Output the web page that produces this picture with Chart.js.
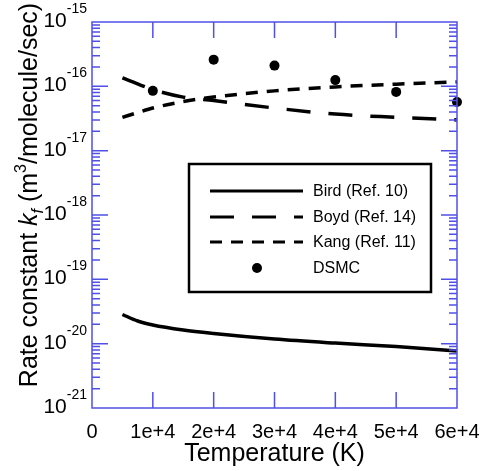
<!DOCTYPE html>
<html lang="en">
<head>
  <meta charset="UTF-8" />
  <title>Rate constant vs temperature</title>
  <script src="https://cdn.jsdelivr.net/npm/chart.js"></script>
  <style>
    html, body { margin: 0; padding: 0; background: #fff; }
    #wrap { width: 487px; height: 471px; position: relative; }
  </style>
</head>
<body>
  <div id="wrap"><canvas id="rateChart"></canvas></div>

  <script>
    // temperatures (K) for the model curves
    const tempK = [5000, 7500, 10000, 15000, 20000, 30000, 40000, 50000, 60000];
    const bird = [2.84e-20, 2.25e-20, 1.95e-20, 1.63e-20, 1.44e-20, 1.18e-20, 1.02e-20, 9.0e-21, 7.7e-21];
    const boyd = [1.35e-16, 1.09e-16, 8.9e-17, 6.8e-17, 6.0e-17, 4.6e-17, 3.7e-17, 3.3e-17, 3.0e-17];
    const kang = [3.3e-17, 3.9e-17, 4.6e-17, 5.8e-17, 6.8e-17, 8.5e-17, 9.8e-17, 1.08e-16, 1.17e-16];

    // DSMC results
    const dsmcT = [10000, 20000, 30000, 40000, 50000, 60000];
    const dsmc = [8.5e-17, 2.6e-16, 2.1e-16, 1.25e-16, 8.2e-17, 5.7e-17];

    // axis ticks
    const xTicks = [0, 10000, 20000, 30000, 40000, 50000, 60000];
    const xTickLabels = ["0", "1e+4", "2e+4", "3e+4", "4e+4", "5e+4", "6e+4"];
    const yExps = [-21, -20, -19, -18, -17, -16, -15];

    const FONT = "'Liberation Sans', Arial, sans-serif";
    const BLUE = "rgb(80, 80, 232)";

    const pts = (xs, ys) => xs.map((x, i) => ({ x: x, y: ys[i] }));

    const datasets = [
      { label: "Bird (Ref. 10)", data: pts(tempK, bird), borderDash: [], showLine: true, pointRadius: 0 },
      { label: "Boyd (Ref. 14)", data: pts(tempK, boyd), borderDash: [24, 18], showLine: true, pointRadius: 0 },
      { label: "Kang (Ref. 11)", data: pts(tempK, kang), borderDash: [12, 9], showLine: true, pointRadius: 0 },
      { label: "DSMC", data: pts(dsmcT, dsmc), showLine: false, pointRadius: 5 }
    ].map(d => Object.assign({
      borderColor: "#000",
      backgroundColor: "#000",
      borderWidth: 3.5,
      cubicInterpolationMode: "monotone",
      pointBorderWidth: 0,
      clip: false
    }, d));

    function drawRich(ctx, parts, x, y) {
      // parts: [text, size, style, dy]
      let cx = x;
      parts.forEach(p => {
        ctx.font = (p[2] || "") + " " + p[1] + "px " + FONT;
        ctx.fillText(p[0], cx, y + (p[3] || 0));
        cx += ctx.measureText(p[0]).width;
      });
      return cx - x;
    }

    function richWidth(ctx, parts) {
      let w = 0;
      parts.forEach(p => {
        ctx.font = (p[2] || "") + " " + p[1] + "px " + FONT;
        w += ctx.measureText(p[0]).width;
      });
      return w;
    }

    const axesPlugin = {
      id: "axesPlugin",
      afterDatasetsDraw(chart) {
        const ctx = chart.ctx;
        // legend box
        const bx = 189, by = 164, bw = 242, bh = 128;
        ctx.save();
        ctx.fillStyle = "#fff";
        ctx.fillRect(bx, by, bw, bh);
        ctx.strokeStyle = "#000";
        ctx.lineWidth = 2.5;
        ctx.strokeRect(bx, by, bw, bh);
        const rows = [191, 217, 242, 268];
        ctx.font = "16px " + FONT;
        ctx.textBaseline = "middle";
        chart.data.datasets.forEach((d, i) => {
          const y = rows[i];
          if (d.showLine) {
            ctx.beginPath();
            ctx.setLineDash(d.borderDash);
            ctx.lineWidth = 3;
            ctx.moveTo(210, y);
            ctx.lineTo(303, y);
            ctx.stroke();
            ctx.setLineDash([]);
          } else {
            ctx.beginPath();
            ctx.arc(257, y, 5, 0, Math.PI * 2);
            ctx.fillStyle = "#000";
            ctx.fill();
          }
          ctx.fillStyle = "#000";
          ctx.fillText(d.label, 313, y + 1);
        });
        ctx.restore();
      },
      afterDraw(chart) {
        const ctx = chart.ctx;
        const a = chart.chartArea;
        const xs = chart.scales.x, ys = chart.scales.y;
        ctx.save();

        // frame and ticks
        ctx.strokeStyle = BLUE;
        ctx.lineWidth = 1.5;
        ctx.strokeRect(a.left, a.top, a.right - a.left, a.bottom - a.top);
        ctx.beginPath();
        xTicks.forEach(v => {
          const px = xs.getPixelForValue(v);
          if (v === xTicks[0] || v === xTicks[xTicks.length - 1]) return;
          ctx.moveTo(px, a.top); ctx.lineTo(px, a.top + 16);
          ctx.moveTo(px, a.bottom); ctx.lineTo(px, a.bottom - 16);
        });
        for (let e = yExps[0]; e < yExps[yExps.length - 1]; e++) {
          for (let m = 1; m <= 9; m++) {
            if (e === yExps[0] && m === 1) continue;
            const py = ys.getPixelForValue(m * Math.pow(10, e));
            const len = m === 1 ? 16 : 8;
            ctx.moveTo(a.left, py); ctx.lineTo(a.left + len, py);
            ctx.moveTo(a.right, py); ctx.lineTo(a.right - len, py);
          }
        }
        ctx.stroke();

        // x tick labels
        ctx.fillStyle = "#000";
        ctx.textBaseline = "alphabetic";
        ctx.textAlign = "center";
        ctx.font = "20px " + FONT;
        xTicks.forEach((v, i) => {
          ctx.fillText(xTickLabels[i], xs.getPixelForValue(v), 438);
        });

        // y tick labels 10^n
        ctx.textAlign = "left";
        yExps.forEach(e => {
          const py = ys.getPixelForValue(Math.pow(10, e));
          const parts = [["10", 21, "", 0], [String(e), 14, "", -14]];
          const w = richWidth(ctx, parts);
          drawRich(ctx, parts, 87 - w, py + 5);
        });

        // x title
        ctx.textAlign = "center";
        ctx.font = "25px " + FONT;
        ctx.fillText("Temperature (K)", (a.left + a.right) / 2, 461);

        // y title
        ctx.textAlign = "left";
        const yParts = [
          ["Rate constant ", 25, "", 0],
          ["k", 25, "italic", 0],
          ["f", 16, "italic", 6],
          [" (m", 25, "", 0],
          ["3", 16, "", -11],
          ["/molecule/sec)", 25, "", 0]
        ];
        ctx.translate(37, 195);
        ctx.rotate(-Math.PI / 2);
        const tw = richWidth(ctx, yParts);
        drawRich(ctx, yParts, -tw / 2, 0);
        ctx.restore();
      }
    };

    new Chart(document.getElementById("rateChart"), {
      type: "line",
      data: { datasets: datasets },
      options: {
        responsive: true,
        maintainAspectRatio: false,
        animation: false,
        layout: { padding: { left: 92, right: 30, top: 22, bottom: 63 } },
        scales: {
          x: { type: "linear", min: 0, max: 60000, display: false },
          y: { type: "logarithmic", min: 1e-21, max: 1e-15, display: false }
        },
        plugins: {
          legend: { display: false },
          tooltip: { enabled: false }
        }
      },
      plugins: [axesPlugin]
    });
  </script>
</body>
</html>
